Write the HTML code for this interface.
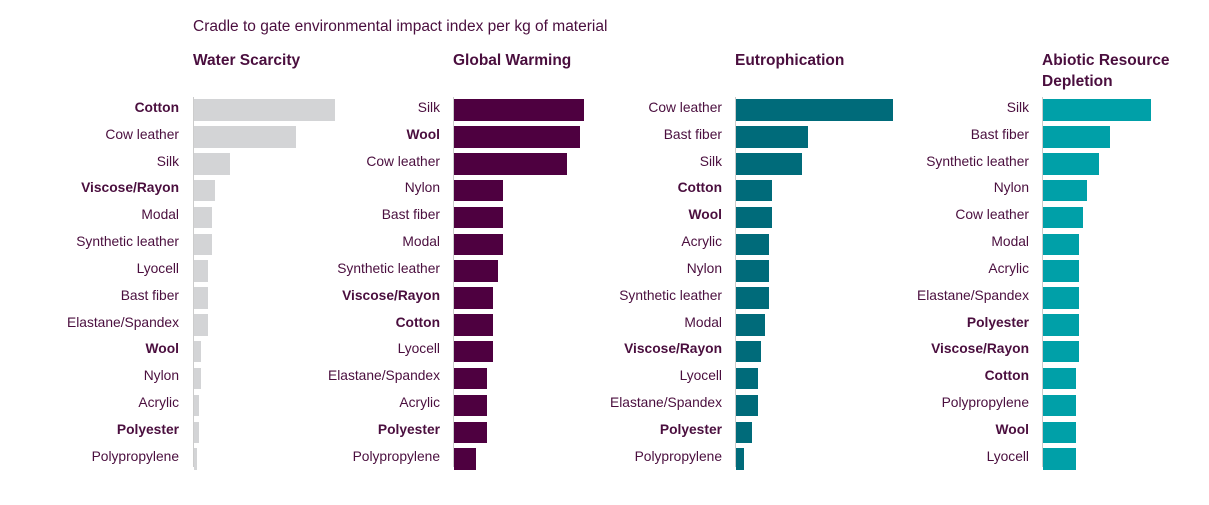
<!DOCTYPE html>
<html><head><meta charset="utf-8"><style>
body{margin:0;width:1209px;height:505px;background:#fff;position:relative;overflow:hidden;font-family:"Liberation Sans",sans-serif;color:#4a0e3e}
.t{position:absolute;white-space:nowrap}
.h{font-weight:bold;font-size:15.5px;line-height:21px}
.l{font-size:13.8px;text-align:right;width:170px;line-height:16px}
.b{position:absolute;height:21.5px}
.ax{position:absolute;width:1px;background:#ccc;top:97px;height:370px}
</style></head><body>
<div class="t" style="left:193px;top:18px;font-size:15.5px">Cradle to gate environmental impact index per kg of material</div>
<div class="t h" style="left:193px;top:50px">Water Scarcity</div>
<div class="t h" style="left:453px;top:50px">Global Warming</div>
<div class="t h" style="left:735px;top:50px">Eutrophication</div>
<div class="t h" style="left:1042px;top:50px">Abiotic Resource<br>Depletion</div>
<div id="c"></div>
<script>
var P=[
{x:193,lx:179,c:"#d3d4d6",d:[["Cotton",335,1],["Cow leather",296],["Silk",230],["Viscose/Rayon",215,1],["Modal",212],["Synthetic leather",212],["Lyocell",208],["Bast fiber",208],["Elastane/Spandex",208],["Wool",201,1],["Nylon",201],["Acrylic",199],["Polyester",199,1],["Polypropylene",197]]},
{x:453,lx:440,c:"#4e0040",d:[["Silk",584],["Wool",580,1],["Cow leather",567],["Nylon",503],["Bast fiber",503],["Modal",503],["Synthetic leather",498],["Viscose/Rayon",493,1],["Cotton",493,1],["Lyocell",493],["Elastane/Spandex",487],["Acrylic",487],["Polyester",487,1],["Polypropylene",476]]},
{x:735,lx:722,c:"#006b7a",d:[["Cow leather",893],["Bast fiber",808],["Silk",802],["Cotton",772,1],["Wool",772,1],["Acrylic",769],["Nylon",769],["Synthetic leather",769],["Modal",765],["Viscose/Rayon",761,1],["Lyocell",758],["Elastane/Spandex",758],["Polyester",752,1],["Polypropylene",744]]},
{x:1042,lx:1029,c:"#00a0a8",d:[["Silk",1151],["Bast fiber",1110],["Synthetic leather",1099],["Nylon",1087],["Cow leather",1083],["Modal",1079],["Acrylic",1079],["Elastane/Spandex",1079],["Polyester",1079,1],["Viscose/Rayon",1079,1],["Cotton",1076,1],["Polypropylene",1076],["Wool",1076,1],["Lyocell",1076]]}];
var h="";
P.forEach(function(p){
h+='<div class="ax" style="left:'+(p.x)+'px"></div>';
p.d.forEach(function(r,i){var y=99.3+i*26.85;
h+='<div class="b" style="left:'+(p.x+1)+'px;top:'+y+'px;width:'+(r[1]-p.x-1)+'px;background:'+p.c+'"></div>';
h+='<div class="t l" style="left:'+(p.lx-170)+'px;top:'+(y+0.5)+'px;'+(r[2]?'font-weight:bold':'')+'">'+r[0]+'</div>';});});
document.getElementById("c").innerHTML=h;
</script>
</body></html>
